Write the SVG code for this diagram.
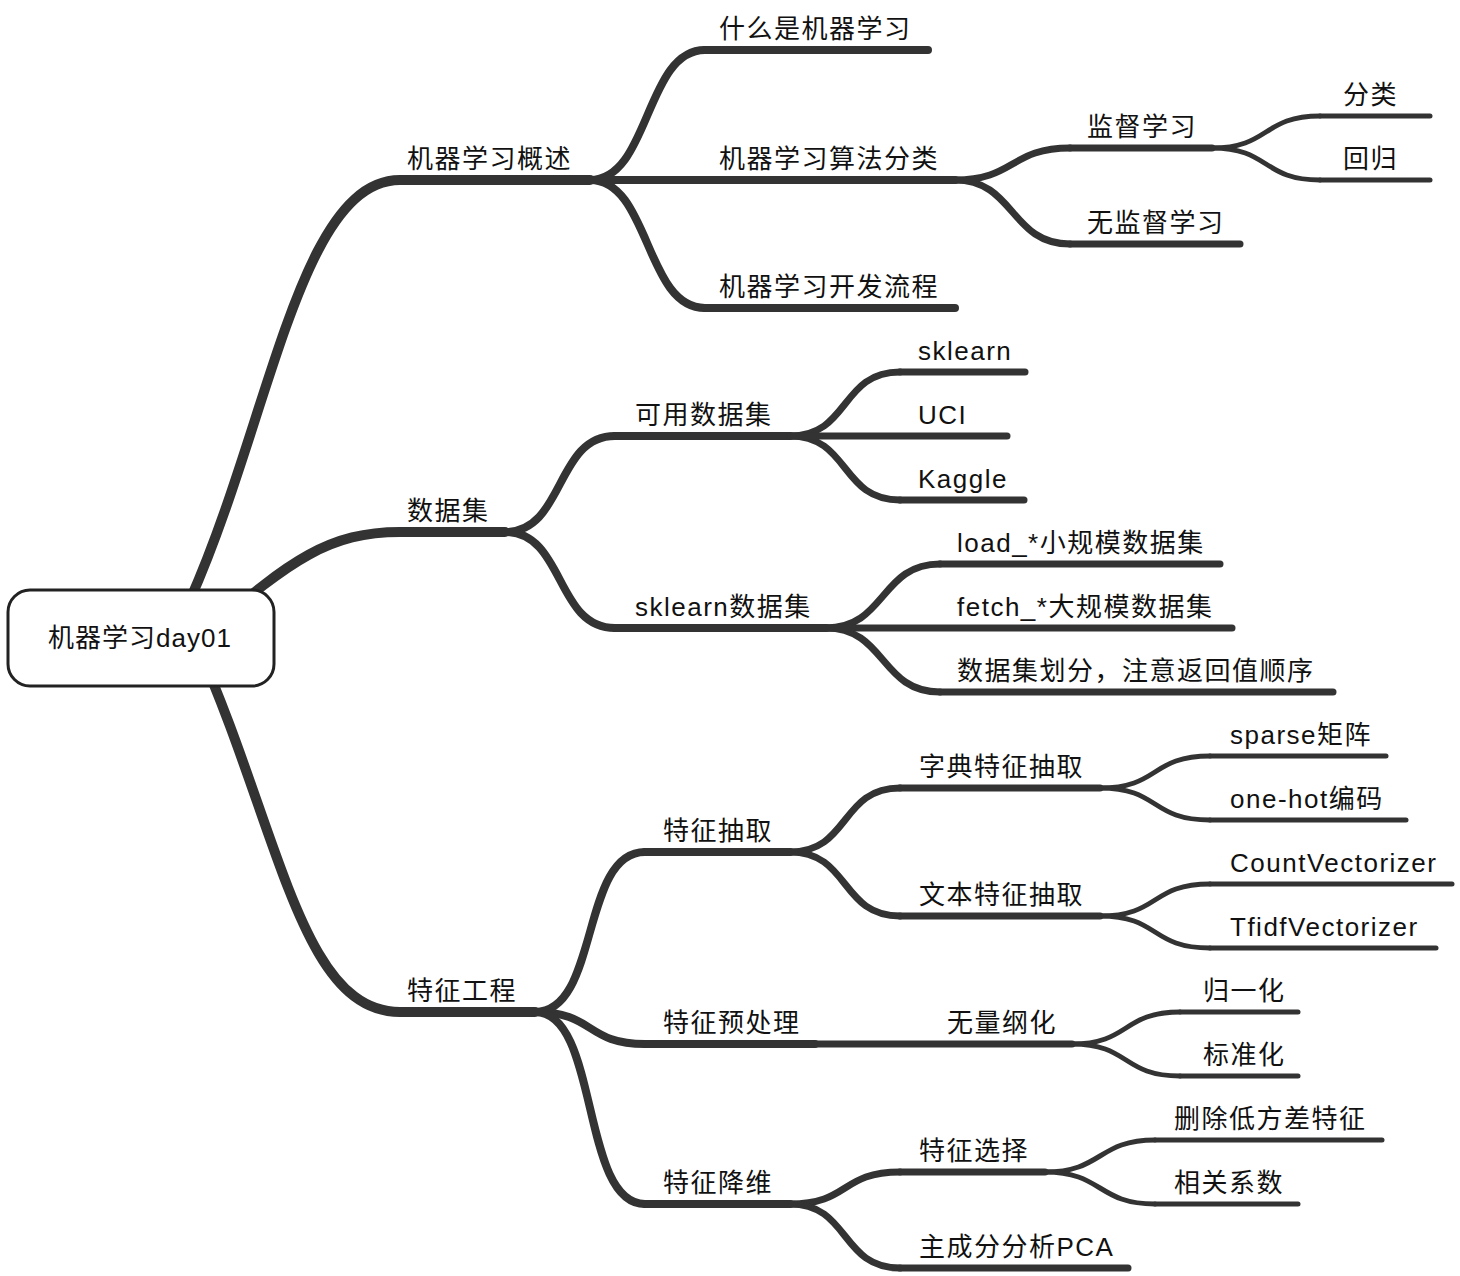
<svg xmlns="http://www.w3.org/2000/svg" width="1460" height="1276" viewBox="0 0 1460 1276">
<style>
  text { font-family: "Liberation Sans", "Noto Sans CJK SC", sans-serif; font-size: 26px; fill: #111; letter-spacing: 1.5px; }
  .c { fill: none; stroke: #333; stroke-linecap: round; stroke-linejoin: round; }
  .w1 { stroke-width: 10; }
  .w2 { stroke-width: 8; }
  .w3 { stroke-width: 7; }
  .w4 { stroke-width: 5; }
  .root { fill: #fff; stroke: #222; stroke-width: 3; }
</style>
<rect width="1460" height="1276" fill="#fff"/>
<g id="connectors">
  <path class="c w1" d="M190 600 C270 420 300 180 400 180 L590 180"/>
  <path class="c w1" d="M210 630 C290 560 330 532 400 532 L505 532"/>
  <path class="c w1" d="M195 640 C280 830 300 1012 400 1012 L535 1012"/>
  <path class="c w2" d="M590 180 C650 180 645 50 705 50"/>
  <path class="c w2" d="M590 180 C650 180 645 308 705 308"/>
  <path class="c w3" d="M955 180 C1015 180 1010 148 1070 148"/>
  <path class="c w3" d="M955 180 C1015 180 1010 244 1070 244"/>
  <path class="c w4" d="M1212 148 C1270 148 1262 116 1320 116"/>
  <path class="c w4" d="M1212 148 C1270 148 1262 180 1320 180"/>
  <path class="c w2" d="M505 532 C565 532 555 436 615 436"/>
  <path class="c w2" d="M505 532 C565 532 555 628 615 628"/>
  <path class="c w3" d="M790 436 C850 436 840 372 900 372"/>
  <path class="c w3" d="M790 436 C850 436 840 500 900 500"/>
  <path class="c w3" d="M826 628 C886 628 880 564 940 564"/>
  <path class="c w3" d="M826 628 C886 628 880 692 940 692"/>
  <path class="c w2" d="M535 1012 C600 1012 580 852 645 852"/>
  <path class="c w2" d="M535 1012 C595 1012 585 1044 645 1044"/>
  <path class="c w2" d="M535 1012 C600 1012 580 1204 645 1204"/>
  <path class="c w3" d="M790 852 C850 852 840 788 900 788"/>
  <path class="c w3" d="M790 852 C850 852 840 916 900 916"/>
  <path class="c w4" d="M1100 788 C1160 788 1150 756 1210 756"/>
  <path class="c w4" d="M1100 788 C1160 788 1150 820 1210 820"/>
  <path class="c w4" d="M1100 916 C1160 916 1150 884 1210 884"/>
  <path class="c w4" d="M1100 916 C1160 916 1150 948 1210 948"/>
  <path class="c w4" d="M1072 1044 C1130 1044 1122 1012 1180 1012"/>
  <path class="c w4" d="M1072 1044 C1130 1044 1122 1076 1180 1076"/>
  <path class="c w3" d="M790 1204 C850 1204 840 1172 900 1172"/>
  <path class="c w3" d="M790 1204 C850 1204 840 1268 900 1268"/>
  <path class="c w4" d="M1045 1172 C1103 1172 1097 1140 1155 1140"/>
  <path class="c w4" d="M1045 1172 C1103 1172 1097 1204 1155 1204"/>
</g>

<g id="root">
  <rect class="root" x="8" y="590" width="266" height="96" rx="22"/>
  <text x="140" y="647" text-anchor="middle" style="letter-spacing:1px">机器学习day01</text>
</g>

<g id="n-gaishu"><text x="407" y="168">机器学习概述</text></g>
<g id="n-shujuji"><text x="407" y="520">数据集</text></g>
<g id="n-tezheng"><text x="407" y="1000">特征工程</text></g>

<g id="n-shenme"><path class="c w2" d="M705 50 L928 50"/><text x="719" y="38">什么是机器学习</text></g>
<g id="n-suanfa"><path class="c w2" d="M590 180 L955 180"/><text x="719" y="168">机器学习算法分类</text></g>
<g id="n-kaifa"><path class="c w2" d="M705 308 L955 308"/><text x="719" y="296">机器学习开发流程</text></g>

<g id="n-jiandu"><path class="c w3" d="M1070 148 L1212 148"/><text x="1087" y="136">监督学习</text></g>
<g id="n-wujiandu"><path class="c w3" d="M1070 244 L1240 244"/><text x="1087" y="232">无监督学习</text></g>
<g id="n-fenlei"><path class="c w4" d="M1320 116 L1430 116"/><text x="1343" y="104">分类</text></g>
<g id="n-huigui"><path class="c w4" d="M1320 180 L1430 180"/><text x="1343" y="168">回归</text></g>

<g id="n-keyong"><path class="c w2" d="M615 436 L790 436"/><text x="635" y="424">可用数据集</text></g>
<g id="n-skds"><path class="c w2" d="M615 628 L826 628"/><text x="635" y="616">sklearn数据集</text></g>
<g id="n-sklearn"><path class="c w3" d="M900 372 L1025 372"/><text x="918" y="360">sklearn</text></g>
<g id="n-uci"><path class="c w3" d="M790 436 L1007 436"/><text x="918" y="424">UCI</text></g>
<g id="n-kaggle"><path class="c w3" d="M900 500 L1024 500"/><text x="918" y="488">Kaggle</text></g>
<g id="n-load"><path class="c w3" d="M940 564 L1220 564"/><text x="957" y="552">load_*小规模数据集</text></g>
<g id="n-fetch"><path class="c w3" d="M826 628 L1232 628"/><text x="957" y="616">fetch_*大规模数据集</text></g>
<g id="n-huafen"><path class="c w3" d="M940 692 L1333 692"/><text x="957" y="680">数据集划分，注意返回值顺序</text></g>

<g id="n-chouqu"><path class="c w2" d="M645 852 L790 852"/><text x="663" y="840">特征抽取</text></g>
<g id="n-yuchuli"><path class="c w2" d="M645 1044 L815 1044"/><text x="663" y="1032">特征预处理</text></g>
<g id="n-jiangwei"><path class="c w2" d="M645 1204 L790 1204"/><text x="663" y="1192">特征降维</text></g>

<g id="n-zidian"><path class="c w3" d="M900 788 L1100 788"/><text x="919" y="776">字典特征抽取</text></g>
<g id="n-wenben"><path class="c w3" d="M900 916 L1100 916"/><text x="919" y="904">文本特征抽取</text></g>
<g id="n-sparse"><path class="c w4" d="M1210 756 L1386 756"/><text x="1230" y="744">sparse矩阵</text></g>
<g id="n-onehot"><path class="c w4" d="M1210 820 L1406 820"/><text x="1230" y="808">one-hot编码</text></g>
<g id="n-count"><path class="c w4" d="M1210 884 L1452 884"/><text x="1230" y="872">CountVectorizer</text></g>
<g id="n-tfidf"><path class="c w4" d="M1210 948 L1436 948"/><text x="1230" y="936">TfidfVectorizer</text></g>

<g id="n-wuliang"><path class="c w3" d="M815 1044 L1072 1044"/><text x="947" y="1032">无量纲化</text></g>
<g id="n-guiyi"><path class="c w4" d="M1180 1012 L1298 1012"/><text x="1203" y="1000">归一化</text></g>
<g id="n-biaozhun"><path class="c w4" d="M1180 1076 L1298 1076"/><text x="1203" y="1064">标准化</text></g>

<g id="n-xuanze"><path class="c w3" d="M900 1172 L1045 1172"/><text x="919" y="1160">特征选择</text></g>
<g id="n-pca"><path class="c w3" d="M900 1268 L1128 1268"/><text x="919" y="1256">主成分分析PCA</text></g>
<g id="n-shanchu"><path class="c w4" d="M1155 1140 L1382 1140"/><text x="1174" y="1128">删除低方差特征</text></g>
<g id="n-xiangguan"><path class="c w4" d="M1155 1204 L1298 1204"/><text x="1174" y="1192">相关系数</text></g>
</svg>
